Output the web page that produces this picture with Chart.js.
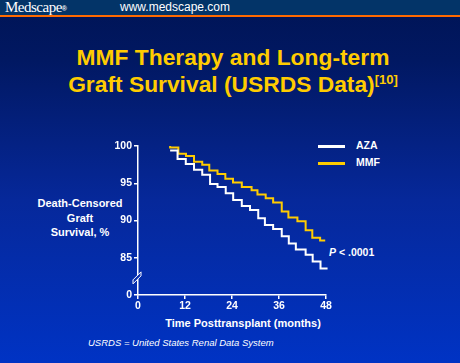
<!DOCTYPE html>
<html>
<head>
<meta charset="utf-8">
<script src="https://cdn.jsdelivr.net/npm/chart.js@4.4.1/dist/chart.umd.min.js"></script>
<style>
  html, body { margin: 0; padding: 0; }
  body { width: 460px; height: 363px; overflow: hidden; position: relative;
         background: linear-gradient(to bottom, #001455 0px, #011862 60px, #06289a 200px, #0033c4 363px);
         font-family: "Liberation Sans", Arial, sans-serif; color: #fff; }
  #header { position: absolute; left: 0; top: 0; width: 460px; height: 15px; background: #033468;
            border-bottom: 2px solid #ff6a00; }
  #brand { position: absolute; left: 5px; top: -1px; font-family: "Liberation Serif", "Times New Roman", serif;
           font-size: 15px; letter-spacing: -0.5px; }
  #brand sup { font-family: "Liberation Sans", Arial, sans-serif; font-size: 7px; font-weight: bold; vertical-align: 1px; }
  #site { position: absolute; left: 120px; top: 0px; font-size: 12px; }
  #title { position: absolute; left: 0; width: 466px; top: 44px; text-align: center; color: #ffcc00;
           font-weight: bold; font-size: 22.8px; line-height: 27px; }
  #title sup { font-size: 13px; vertical-align: 8px; line-height: 0; }
  #ytitle { position: absolute; left: 29px; width: 100px; top: 196px; text-align: center; font-weight: bold;
            font-size: 11px; line-height: 14.5px; }
  #xtitle { position: absolute; left: 100px; width: 286px; top: 317px; text-align: center; font-weight: bold; font-size: 11px; }
  #note { position: absolute; left: 88px; top: 337px; font-style: italic; font-size: 9.5px; }
  .leg { position: absolute; left: 318px; width: 27px; height: 3px; }
  .legt { position: absolute; left: 356px; font-weight: bold; font-size: 10.5px; }
  #pval { position: absolute; left: 329px; top: 246px; font-weight: bold; font-size: 10.5px; }
  canvas { position: absolute; left: 0; top: 0; }
</style>
</head>
<body>
<div id="header"><div id="brand">Medscape<sup>®</sup></div><div id="site">www.medscape.com</div></div>
<div id="title">MMF Therapy and Long-term<br>Graft Survival (USRDS Data)<sup>[10]</sup></div>
<div id="ytitle" style="left:30px">Death-Censored<br>Graft<br>Survival, %</div>
<div id="xtitle">Time Posttransplant (months)</div>
<div id="note">USRDS = United States Renal Data System</div>
<div class="leg" style="top:145px;background:#ffffff"></div><div class="legt" style="top:139px">AZA</div>
<div class="leg" style="top:162px;background:#ffcc00"></div><div class="legt" style="top:156px">MMF</div>
<div id="pval"><i>P</i> &lt; .0001</div>
<canvas id="c" width="460" height="363"></canvas>
<script>
// months at which each curve steps down, and the survival value after the step
const azaMonths = [8.2, 10.1, 12.2, 14.3, 16.4, 18.4, 20.3, 22.4, 24.3, 26.5, 28.6, 30.7, 32.4, 34.5, 36.7, 38.5, 40.3, 42.8, 44.6, 46.6, 48.4];
const azaValues = [99.4, 98.25, 97.6, 96.8, 96.15, 94.9, 94.5, 93.65, 92.75, 91.95, 91.4, 90.3, 89.4, 88.85, 87.9, 86.9, 86.1, 85.4, 84.5, 83.55, 83.55];
const mmfMonths = [8.2, 8.2, 10.3, 12.25, 14.3, 16.4, 18.2, 20.3, 22.3, 24.25, 26.5, 29.0, 30.5, 32.6, 34.5, 36.7, 38.4, 40.7, 42.8, 44.5, 46.5, 47.8];
const mmfValues = [100, 99.8, 98.97, 98.66, 97.9, 97.5, 96.7, 96.24, 95.6, 95.1, 94.5, 94.05, 93.5, 92.98, 92.4, 91.2, 90.4, 89.9, 88.7, 87.7, 87.3, 87.3];

const xTicks = [0, 12, 24, 36, 48];
const yTicks = [80, 85, 90, 95, 100];
const yTickLabels = ['0', '85', '90', '95', '100']; // axis is broken below 85

const toPoints = (xs, ys) => xs.map((x, i) => ({ x: x, y: ys[i] }));

// little "//" break mark on the y axis
const axisBreak = {
    id: 'axisBreak',
    afterDraw(chart) {
        const ctx = chart.ctx;
        const x = chart.scales.x.getPixelForValue(0);
        const y = chart.scales.y.getPixelForValue(82.3);
        ctx.save();
        ctx.beginPath();
        ctx.moveTo(x - 5, y + 2);
        ctx.lineTo(x + 3, y - 6);
        ctx.lineTo(x + 3, y - 2);
        ctx.lineTo(x - 5, y + 6);
        ctx.closePath();
        ctx.fillStyle = '#0a2fb0';
        ctx.fill();
        ctx.strokeStyle = '#ffffff';
        ctx.lineWidth = 1;
        ctx.stroke();
        ctx.restore();
    }
};

new Chart(document.getElementById('c'), {
    type: 'line',
    data: {
        datasets: [
            {
                label: 'AZA',
                data: toPoints(azaMonths, azaValues),
                borderColor: '#ffffff',
                borderWidth: 2,
                stepped: 'before',
                pointRadius: 0,
                fill: false
            },
            {
                label: 'MMF',
                data: toPoints(mmfMonths, mmfValues),
                borderColor: '#ffcc00',
                borderWidth: 2,
                stepped: 'before',
                pointRadius: 0,
                fill: false
            }
        ]
    },
    options: {
        responsive: false,
        animation: false,
        clip: false,
        layout: { padding: { left: 98, right: 134, top: 146, bottom: 48 } },
        plugins: { legend: { display: false }, tooltip: { enabled: false } },
        scales: {
            x: {
                type: 'linear',
                min: 0,
                max: 48,
                afterFit: s => { s.height = 20; },
                afterBuildTicks: s => { s.ticks = xTicks.map(v => ({ value: v })); },
                grid: { display: true, drawOnChartArea: false, drawTicks: true, tickLength: 4, color: '#ffffff', lineWidth: 1.5 },
                border: { color: '#ffffff', width: 1.5 },
                ticks: { color: '#ffffff', padding: 1, maxRotation: 0, font: { family: 'Liberation Sans', size: 10.5, weight: 'bold' } }
            },
            y: {
                min: 80,
                max: 100,
                afterFit: s => { s.width = 40; },
                afterBuildTicks: s => { s.ticks = yTicks.map(v => ({ value: v })); },
                grid: { display: true, drawOnChartArea: false, drawTicks: true, tickLength: 4, color: '#ffffff', lineWidth: 1.5 },
                border: { color: '#ffffff', width: 1.5 },
                ticks: {
                    color: '#ffffff',
                    padding: 2,
                    font: { family: 'Liberation Sans', size: 10.5, weight: 'bold' },
                    callback: (v) => yTickLabels[yTicks.indexOf(v)]
                }
            }
        }
    },
    plugins: [axisBreak]
});
</script>
</body>
</html>
